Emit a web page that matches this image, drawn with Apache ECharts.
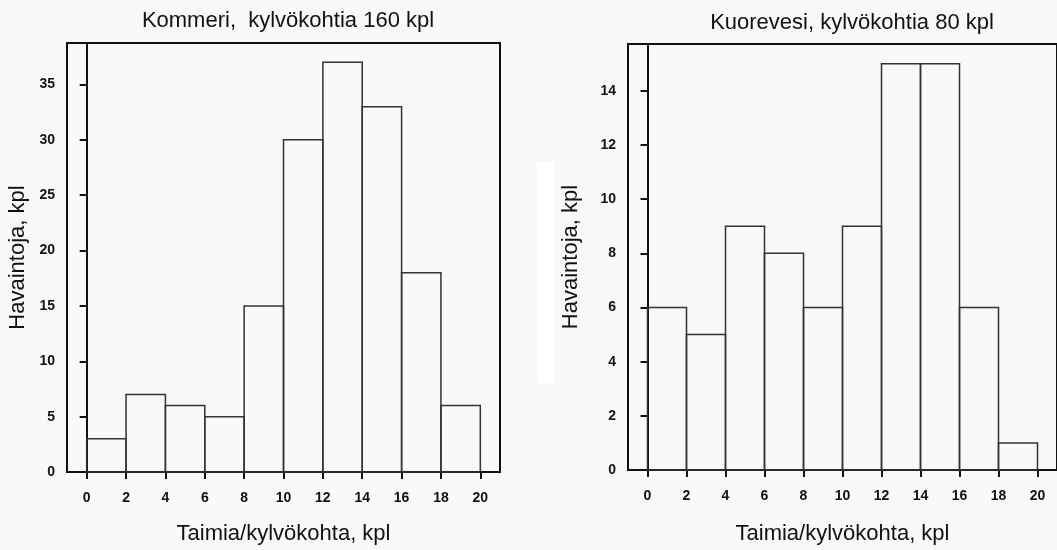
<!DOCTYPE html>
<html>
<head>
<meta charset="utf-8">
<script src="https://cdn.jsdelivr.net/npm/echarts@6/dist/echarts.min.js"></script>
<style>
html,body{margin:0;padding:0;background:#f9f9f9;}
#chart{width:1057px;height:550px;}
</style>
</head>
<body>
<div id="chart"></div>
<script>
// ---- data ----
const binStarts = [0, 2, 4, 6, 8, 10, 12, 14, 16, 18];
const binEnds   = [2, 4, 6, 8, 10, 12, 14, 16, 18, 20];
const kommeriCounts   = [3, 7, 6, 5, 15, 30, 37, 33, 18, 6];
const kuorevesiCounts = [6, 5, 9, 8, 6, 9, 15, 15, 6, 1];
const xTickValues = [0, 2, 4, 6, 8, 10, 12, 14, 16, 18, 20];
const leftYTicks  = [0, 5, 10, 15, 20, 25, 30, 35];
const rightYTicks = [0, 2, 4, 6, 8, 10, 12, 14];
const titles = ['Kommeri,  kylvökohtia 160 kpl', 'Kuorevesi, kylvökohtia 80 kpl'];
const xName = 'Taimia/kylvökohta, kpl';
const yName = 'Havaintoja, kpl';

function rows(counts) {
  return counts.map((c, i) => [binStarts[i], binEnds[i], c]);
}

const FONT = '"Liberation Sans", Arial, Helvetica, sans-serif';
const INK = '#111';

function xAxisCfg(gridIndex, gap) {
  return {
    type: 'value', gridIndex, min: -1, max: 21,
    name: xName, nameLocation: 'middle', nameGap: gap,
    nameTextStyle: {fontFamily: FONT, fontSize: 22, color: INK},
    axisLine: {show: true, onZero: false, lineStyle: {color: INK, width: 2}},
    axisTick: {show: true, customValues: xTickValues, length: 7, lineStyle: {color: INK, width: 2}},
    axisLabel: {customValues: xTickValues, margin: 19, fontFamily: FONT, fontSize: 14, fontWeight: 'bold', color: INK},
    splitLine: {show: false}
  };
}
function yAxisCfg(gridIndex, max, ticks, gap) {
  return {
    type: 'value', gridIndex, min: 0, max: max,
    name: yName, nameLocation: 'middle', nameGap: gap, nameRotate: 90,
    nameTextStyle: {fontFamily: FONT, fontSize: 22, color: INK},
    axisLine: {show: true, lineStyle: {color: INK, width: 2}},
    axisTick: {show: true, customValues: ticks, length: 7, lineStyle: {color: INK, width: 2}},
    axisLabel: {customValues: ticks, margin: 12, fontFamily: FONT, fontSize: 14, fontWeight: 'bold', color: INK},
    splitLine: {show: false}
  };
}

function renderBin(params, api) {
  const topLeft = api.coord([api.value(0), api.value(2)]);
  const botRight = api.coord([api.value(1), 0]);
  return {
    type: 'rect',
    shape: {x: topLeft[0], y: topLeft[1], width: botRight[0] - topLeft[0], height: botRight[1] - topLeft[1]},
    style: {fill: 'rgba(0,0,0,0)', stroke: '#333', lineWidth: 1.5}
  };
}

const chart = echarts.init(document.getElementById('chart'), null, {renderer: 'canvas'});
chart.setOption({
  backgroundColor: '#f9f9f9',
  animation: false,
  graphic: [{type: 'rect', shape: {x: 537, y: 162, width: 17, height: 221}, style: {fill: '#ffffff'}, z: -10}],
  title: [
    {text: titles[0], left: 283, top: 5, textAlign: 'center',
     textStyle: {fontFamily: FONT, fontSize: 22, fontWeight: 'normal', color: INK}},
    {text: titles[1], left: 847, top: 7, textAlign: 'center',
     textStyle: {fontFamily: FONT, fontSize: 22, fontWeight: 'normal', color: INK}}
  ],
  grid: [
    {left: 67, top: 43, width: 433, height: 432, show: true, borderColor: INK, borderWidth: 2, backgroundColor: 'transparent'},
    {left: 628, top: 44, width: 432, height: 433, show: true, borderColor: INK, borderWidth: 2, backgroundColor: 'transparent'}
  ],
  xAxis: [xAxisCfg(0, 51), xAxisCfg(1, 53)],
  yAxis: [yAxisCfg(0, 38.75, leftYTicks, 38), yAxisCfg(1, 15.73, rightYTicks, 46)],
  series: [
    {type: 'custom', xAxisIndex: 0, yAxisIndex: 0, data: rows(kommeriCounts),
     encode: {x: [0, 1], y: 2}, renderItem: renderBin, silent: true},
    {type: 'custom', xAxisIndex: 1, yAxisIndex: 1, data: rows(kuorevesiCounts),
     encode: {x: [0, 1], y: 2}, renderItem: renderBin, silent: true}
  ]
});
</script>
</body>
</html>
